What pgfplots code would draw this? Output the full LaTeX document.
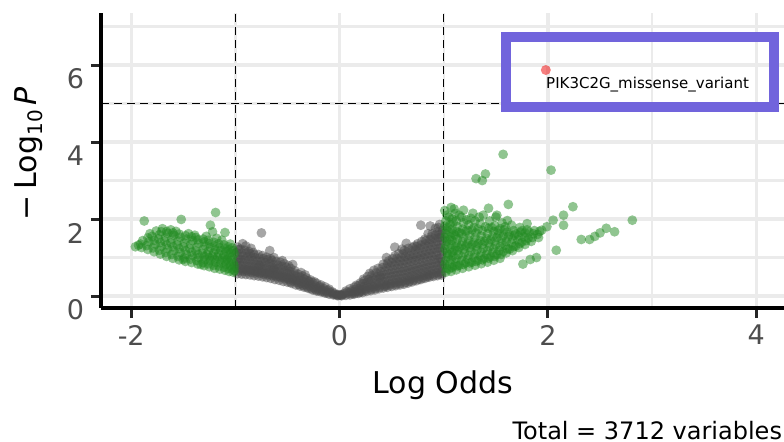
\documentclass[border=0pt]{standalone}
\usepackage{fontspec}
\setmainfont{DejaVu Sans}
\usepackage{pgfplots}
\pgfplotsset{compat=1.18}
\definecolor{grey30}{RGB}{77,77,77}
\definecolor{fgreen}{RGB}{34,139,34}
\definecolor{red2}{RGB}{238,0,0}
\definecolor{gridgrey}{RGB}{235,235,235}
\definecolor{boxblue}{RGB}{113,100,220}

\begin{document}
\begin{tikzpicture}
\useasboundingbox (0,0) rectangle (392pt,220.5pt);
\clip (0,0) rectangle (392pt,220.5pt);
\begin{axis}[
  at={(50.5pt,66.5pt)}, anchor=south west,
  scale only axis, width=341.7pt, height=147.5pt,
  xmin=-2.29, xmax=4.27, ymin=-0.31, ymax=7.35,
  axis x line=bottom, axis y line=left,
  axis line style={-, line width=1.6pt, black},
  xtick={-2,0,2,4}, xticklabels={-2,0,2,4},
  ytick={0,2,4,6}, yticklabels={0,2,4,6},
  minor xtick={-1,1,3}, minor ytick={1,3,5,7},
  tick align=outside, major tick length=5pt, minor tick length=0pt,
  major tick style={line width=1.5pt, black!85},
  grid=both,
  major grid style={line width=1.6pt, gridgrey},
  minor grid style={line width=1.2pt, gridgrey},
  tick label style={font=\fontsize{13.5}{16}\selectfont, text=grey30},
  yticklabel style={yshift=-7pt},
  xlabel={Log Odds},
  xlabel style={font=\fontsize{15}{18}\selectfont, at={(axis description cs:0.5,-0.289)}, anchor=base},
  ylabel={−\hspace{0.2em}Log\raisebox{-3pt}{\fontsize{10}{12}\selectfont 10}\hspace{0.15em}\textit{P}},
  ylabel style={font=\fontsize{15}{18}\selectfont, at={(axis description cs:-0.094,0.522)}, anchor=base},
  clip mode=individual,
]
% thresholds
\addplot[black, line width=0.6pt, dash pattern=on 4pt off 2.5pt] coordinates {(-1,-0.31) (-1,7.35)};
\addplot[black, line width=0.6pt, dash pattern=on 4pt off 2.5pt] coordinates {(1,-0.31) (1,7.35)};
\addplot[black, line width=0.6pt, dash pattern=on 4pt off 2.5pt] coordinates {(-2.29,5) (4.27,5)};

% not significant (grey)
\addplot[only marks, mark=*, mark size=2.45pt, mark options={fill=grey30, fill opacity=0.5, draw opacity=0}] coordinates {
(-0.02,0.01)(-0.02,0.04)(-0.01,0.02)(-0.03,0.03)
(-0.06,0.03)(-0.05,0.07)(-0.07,0.11)(-0.06,0.05)
(-0.10,0.05)(-0.09,0.10)(-0.11,0.15)(-0.10,0.18)(-0.12,0.08)
(-0.14,0.08)(-0.13,0.13)(-0.15,0.19)(-0.14,0.24)(-0.16,0.11)
(-0.18,0.11)(-0.17,0.16)(-0.19,0.22)(-0.18,0.29)(-0.20,0.14)(-0.19,0.26)
(-0.22,0.13)(-0.21,0.19)(-0.23,0.26)(-0.22,0.33)(-0.24,0.37)(-0.23,0.16)
(-0.26,0.16)(-0.25,0.22)(-0.27,0.29)(-0.26,0.36)(-0.28,0.42)(-0.27,0.19)
(-0.30,0.20)(-0.29,0.26)(-0.31,0.33)(-0.30,0.40)(-0.32,0.47)(-0.31,0.23)(-0.29,0.37)
(-0.34,0.23)(-0.33,0.30)(-0.35,0.37)(-0.34,0.44)(-0.36,0.52)(-0.35,0.27)(-0.33,0.55)
(-0.38,0.26)(-0.37,0.33)(-0.39,0.41)(-0.38,0.49)(-0.40,0.57)(-0.39,0.30)(-0.37,0.61)
(-0.42,0.29)(-0.41,0.36)(-0.43,0.44)(-0.42,0.52)(-0.44,0.60)(-0.43,0.66)(-0.41,0.40)
(-0.46,0.33)(-0.45,0.40)(-0.47,0.48)(-0.46,0.56)(-0.48,0.64)(-0.47,0.72)(-0.45,0.44)(-0.47,0.36)
(-0.50,0.36)(-0.49,0.43)(-0.51,0.51)(-0.50,0.59)(-0.52,0.67)(-0.51,0.75)(-0.49,0.79)(-0.50,0.47)
(-0.54,0.38)(-0.53,0.45)(-0.55,0.53)(-0.54,0.61)(-0.56,0.69)(-0.55,0.77)(-0.53,0.84)(-0.54,0.49)
(-0.58,0.41)(-0.57,0.48)(-0.59,0.56)(-0.58,0.64)(-0.60,0.72)(-0.59,0.80)(-0.57,0.88)(-0.58,0.52)
(-0.62,0.43)(-0.61,0.50)(-0.63,0.58)(-0.62,0.66)(-0.64,0.74)(-0.63,0.82)(-0.61,0.90)(-0.62,0.54)(-0.63,0.70)
(-0.66,0.46)(-0.65,0.53)(-0.67,0.61)(-0.66,0.69)(-0.68,0.77)(-0.67,0.85)(-0.65,0.93)(-0.66,0.97)(-0.67,0.57)
(-0.70,0.48)(-0.69,0.55)(-0.71,0.63)(-0.70,0.71)(-0.72,0.79)(-0.71,0.87)(-0.69,0.95)(-0.70,1.01)(-0.71,0.59)
(-0.74,0.50)(-0.73,0.57)(-0.75,0.65)(-0.74,0.73)(-0.76,0.81)(-0.75,0.89)(-0.73,0.97)(-0.74,1.05)(-0.75,0.61)
(-0.78,0.52)(-0.77,0.59)(-0.79,0.67)(-0.78,0.75)(-0.80,0.83)(-0.79,0.91)(-0.77,0.99)(-0.78,1.08)(-0.79,0.63)(-0.77,0.79)
(-0.82,0.53)(-0.81,0.60)(-0.83,0.68)(-0.82,0.76)(-0.84,0.84)(-0.83,0.92)(-0.81,1.00)(-0.82,1.08)(-0.83,1.13)(-0.81,0.64)
(-0.86,0.55)(-0.85,0.62)(-0.87,0.70)(-0.86,0.78)(-0.88,0.86)(-0.87,0.94)(-0.85,1.02)(-0.86,1.10)(-0.87,1.16)(-0.85,0.66)
(-0.90,0.56)(-0.89,0.63)(-0.91,0.71)(-0.90,0.79)(-0.92,0.87)(-0.91,0.95)(-0.89,1.03)(-0.90,1.11)(-0.91,1.19)(-0.89,0.67)
(-0.94,0.57)(-0.93,0.64)(-0.95,0.72)(-0.94,0.80)(-0.96,0.88)(-0.95,0.96)(-0.93,1.04)(-0.94,1.12)(-0.95,1.22)(-0.93,0.68)
(-0.98,0.58)(-0.97,0.65)(-0.99,0.73)(-0.98,0.81)(-0.99,0.89)(-0.97,0.97)(-0.98,1.05)(-0.99,1.13)(-0.97,1.21)(-0.98,1.27)
(-0.75,1.64)(-0.67,1.18)(-0.90,1.30)(-0.93,1.36)(-0.55,0.92)(-0.45,0.82)(-0.85,1.24)(-0.63,1.00)
(0.02,0.01)(0.01,0.03)(0.03,0.05)(0.02,0.02)
(0.06,0.02)(0.05,0.06)(0.07,0.10)(0.06,0.13)
(0.10,0.03)(0.09,0.08)(0.11,0.13)(0.10,0.19)(0.12,0.06)
(0.14,0.05)(0.13,0.11)(0.15,0.17)(0.14,0.23)(0.16,0.28)(0.15,0.08)
(0.18,0.07)(0.17,0.13)(0.19,0.20)(0.18,0.27)(0.20,0.34)(0.19,0.10)
(0.22,0.09)(0.21,0.16)(0.23,0.24)(0.22,0.32)(0.24,0.40)(0.23,0.44)(0.21,0.12)
(0.26,0.12)(0.25,0.19)(0.27,0.27)(0.26,0.35)(0.28,0.43)(0.27,0.51)(0.25,0.15)
(0.30,0.14)(0.29,0.22)(0.31,0.30)(0.30,0.38)(0.32,0.46)(0.31,0.54)(0.29,0.59)(0.30,0.18)
(0.34,0.16)(0.33,0.24)(0.35,0.33)(0.34,0.42)(0.36,0.51)(0.35,0.60)(0.33,0.67)(0.34,0.20)
(0.38,0.19)(0.37,0.27)(0.39,0.36)(0.38,0.45)(0.40,0.54)(0.39,0.63)(0.37,0.72)(0.38,0.23)(0.39,0.50)
(0.42,0.21)(0.41,0.29)(0.43,0.38)(0.42,0.47)(0.44,0.56)(0.43,0.65)(0.41,0.74)(0.42,0.83)(0.43,0.25)
(0.46,0.23)(0.45,0.31)(0.47,0.40)(0.46,0.49)(0.48,0.58)(0.47,0.67)(0.45,0.76)(0.46,0.85)(0.47,0.91)(0.45,0.27)
(0.50,0.25)(0.49,0.33)(0.51,0.42)(0.50,0.51)(0.52,0.60)(0.51,0.69)(0.49,0.78)(0.50,0.87)(0.51,0.97)(0.49,0.29)
(0.54,0.27)(0.53,0.35)(0.55,0.44)(0.54,0.53)(0.56,0.62)(0.55,0.71)(0.53,0.80)(0.54,0.89)(0.55,0.98)(0.53,1.04)(0.54,0.31)
(0.58,0.29)(0.57,0.37)(0.59,0.46)(0.58,0.55)(0.60,0.64)(0.59,0.73)(0.57,0.82)(0.58,0.91)(0.59,1.00)(0.57,1.10)(0.58,0.33)
(0.62,0.31)(0.61,0.39)(0.63,0.48)(0.62,0.57)(0.64,0.66)(0.63,0.75)(0.61,0.84)(0.62,0.93)(0.63,1.02)(0.61,1.10)(0.62,1.18)(0.63,0.35)
(0.66,0.34)(0.65,0.42)(0.67,0.51)(0.66,0.60)(0.68,0.69)(0.67,0.78)(0.65,0.87)(0.66,0.96)(0.67,1.05)(0.65,1.14)(0.66,1.24)(0.67,0.38)
(0.70,0.37)(0.69,0.45)(0.71,0.54)(0.70,0.63)(0.72,0.72)(0.71,0.81)(0.69,0.90)(0.70,0.99)(0.71,1.08)(0.69,1.17)(0.70,1.26)(0.71,0.41)(0.72,1.30)
(0.74,0.40)(0.73,0.48)(0.75,0.57)(0.74,0.66)(0.76,0.75)(0.75,0.84)(0.73,0.93)(0.74,1.02)(0.75,1.11)(0.73,1.20)(0.74,1.29)(0.75,1.36)(0.76,0.44)
(0.78,0.43)(0.77,0.51)(0.79,0.60)(0.78,0.69)(0.80,0.78)(0.79,0.87)(0.77,0.96)(0.78,1.05)(0.79,1.14)(0.77,1.23)(0.78,1.32)(0.79,1.42)(0.80,0.47)
(0.82,0.46)(0.81,0.54)(0.83,0.63)(0.82,0.72)(0.84,0.81)(0.83,0.90)(0.81,0.99)(0.82,1.08)(0.83,1.17)(0.81,1.26)(0.82,1.35)(0.83,1.44)(0.84,0.50)(0.82,1.48)
(0.86,0.49)(0.85,0.57)(0.87,0.66)(0.86,0.75)(0.88,0.84)(0.87,0.93)(0.85,1.02)(0.86,1.11)(0.87,1.20)(0.85,1.29)(0.86,1.38)(0.87,1.47)(0.88,1.54)(0.86,0.53)
(0.90,0.51)(0.89,0.59)(0.91,0.68)(0.90,0.77)(0.92,0.86)(0.91,0.95)(0.89,1.04)(0.90,1.13)(0.91,1.22)(0.89,1.31)(0.90,1.40)(0.91,1.49)(0.92,1.58)(0.90,0.55)(0.89,1.62)
(0.94,0.53)(0.93,0.61)(0.95,0.70)(0.94,0.79)(0.96,0.88)(0.95,0.97)(0.93,1.06)(0.94,1.15)(0.95,1.24)(0.93,1.33)(0.94,1.42)(0.95,1.51)(0.96,1.60)(0.94,1.67)(0.95,0.57)
(0.98,0.55)(0.97,0.63)(0.99,0.72)(0.98,0.81)(0.99,0.90)(0.97,0.99)(0.98,1.08)(0.99,1.17)(0.97,1.26)(0.98,1.35)(0.99,1.44)(0.97,1.53)(0.98,1.62)(0.99,1.71)(0.98,0.59)
(0.78,1.84)(0.87,1.82)(0.53,1.27)(0.64,1.37)(0.92,1.76)(0.96,1.86)(0.45,1.00)(0.60,1.22)(0.85,1.62)(0.95,1.78)
};

% log odds beyond cutoff (green)
\addplot[only marks, mark=*, mark size=2.45pt, mark options={fill=fgreen, fill opacity=0.5, draw opacity=0}] coordinates {
(-1.02,0.62)(-1.03,0.70)(-1.01,0.78)(-1.02,0.86)(-1.04,0.94)(-1.03,1.02)(-1.01,1.10)(-1.02,1.18)(-1.03,1.25)(-1.01,0.66)
(-1.06,0.64)(-1.07,0.72)(-1.05,0.80)(-1.06,0.88)(-1.08,0.96)(-1.07,1.04)(-1.05,1.12)(-1.06,1.20)(-1.07,1.28)(-1.10,1.65)
(-1.10,0.67)(-1.11,0.75)(-1.09,0.83)(-1.10,0.91)(-1.12,0.99)(-1.11,1.07)(-1.09,1.15)(-1.10,1.23)(-1.11,1.33)
(-1.15,0.70)(-1.16,0.78)(-1.14,0.86)(-1.15,0.94)(-1.17,1.02)(-1.16,1.10)(-1.14,1.18)(-1.15,1.26)(-1.16,1.36)
(-1.20,0.72)(-1.21,0.80)(-1.19,0.88)(-1.20,0.96)(-1.22,1.04)(-1.21,1.12)(-1.19,1.20)(-1.20,1.30)(-1.21,1.40)(-1.19,2.17)(-1.24,1.84)(-1.22,1.67)
(-1.25,0.76)(-1.26,0.84)(-1.24,0.92)(-1.25,1.00)(-1.27,1.08)(-1.26,1.16)(-1.24,1.26)(-1.25,1.36)(-1.26,1.45)
(-1.30,0.79)(-1.31,0.87)(-1.29,0.95)(-1.30,1.03)(-1.32,1.11)(-1.31,1.21)(-1.29,1.31)(-1.30,1.41)(-1.31,1.48)
(-1.36,0.83)(-1.37,0.92)(-1.35,1.00)(-1.36,1.08)(-1.38,1.17)(-1.37,1.27)(-1.35,1.37)(-1.36,1.46)(-1.38,1.52)
(-1.42,0.87)(-1.43,0.96)(-1.41,1.05)(-1.42,1.14)(-1.44,1.24)(-1.43,1.34)(-1.41,1.44)(-1.42,1.54)
(-1.48,0.90)(-1.49,0.99)(-1.47,1.08)(-1.48,1.18)(-1.50,1.28)(-1.49,1.38)(-1.47,1.48)(-1.48,1.57)
(-1.54,0.94)(-1.55,1.03)(-1.53,1.13)(-1.54,1.23)(-1.56,1.33)(-1.55,1.43)(-1.53,1.53)(-1.54,1.61)(-1.52,1.99)
(-1.60,0.98)(-1.61,1.08)(-1.59,1.18)(-1.60,1.28)(-1.62,1.38)(-1.61,1.48)(-1.59,1.58)(-1.60,1.64)
(-1.66,1.03)(-1.67,1.13)(-1.65,1.23)(-1.66,1.33)(-1.68,1.43)(-1.67,1.53)(-1.65,1.63)(-1.66,1.68)
(-1.72,1.09)(-1.73,1.19)(-1.71,1.29)(-1.72,1.39)(-1.74,1.49)(-1.73,1.59)(-1.71,1.67)
(-1.78,1.15)(-1.79,1.25)(-1.77,1.35)(-1.78,1.45)(-1.80,1.55)(-1.76,1.69)
(-1.84,1.21)(-1.85,1.31)(-1.83,1.41)(-1.84,1.51)(-1.875,1.95)
(-1.90,1.26)(-1.91,1.35)(-1.89,1.44)(-1.96,1.28)(-1.93,1.32)
(-1.05,1.35)(-1.13,1.45)(-1.18,1.50)(-1.28,1.55)(-1.45,1.62)(-1.62,1.72)(-1.70,1.75)(-1.33,0.82)(-1.50,0.95)(-1.39,1.58)(-1.57,1.68)(-1.82,1.62)
(1.02,0.62)(1.03,0.72)(1.01,0.82)(1.02,0.92)(1.04,1.02)(1.03,1.12)(1.01,1.22)(1.02,1.32)(1.03,1.42)(1.01,1.52)(1.02,1.62)(1.03,1.72)(1.01,1.82)(1.02,1.95)(1.03,2.10)(1.01,2.22)
(1.07,0.64)(1.08,0.74)(1.06,0.84)(1.07,0.94)(1.09,1.04)(1.08,1.14)(1.06,1.24)(1.07,1.34)(1.08,1.44)(1.06,1.54)(1.07,1.64)(1.08,1.74)(1.06,1.86)(1.07,2.30)(1.08,2.00)
(1.12,0.68)(1.13,0.78)(1.11,0.88)(1.12,0.98)(1.14,1.08)(1.13,1.18)(1.11,1.28)(1.12,1.38)(1.13,1.48)(1.11,1.58)(1.12,1.68)(1.13,1.80)(1.12,1.95)(1.11,2.15)
(1.18,0.72)(1.19,0.82)(1.17,0.92)(1.18,1.02)(1.20,1.12)(1.19,1.22)(1.17,1.32)(1.18,1.42)(1.19,1.52)(1.17,1.62)(1.18,1.74)(1.19,1.90)(1.19,2.23)(1.17,2.05)
(1.24,0.76)(1.25,0.86)(1.23,0.96)(1.24,1.06)(1.26,1.16)(1.25,1.26)(1.23,1.36)(1.24,1.46)(1.25,1.58)(1.23,1.70)(1.24,1.85)(1.26,2.02)
(1.30,0.80)(1.31,0.90)(1.29,1.00)(1.30,1.10)(1.32,1.20)(1.31,1.30)(1.29,1.40)(1.30,1.52)(1.31,1.64)(1.29,1.78)(1.31,3.05)(1.37,3.00)(1.40,3.17)(1.30,1.95)
(1.36,0.84)(1.37,0.94)(1.35,1.04)(1.36,1.14)(1.38,1.24)(1.37,1.34)(1.35,1.44)(1.36,1.56)(1.37,1.70)(1.35,1.88)(1.38,2.10)
(1.42,0.88)(1.43,0.98)(1.41,1.08)(1.42,1.18)(1.44,1.28)(1.43,1.38)(1.41,1.50)(1.42,1.62)(1.43,1.76)(1.43,2.28)(1.44,1.95)
(1.48,0.93)(1.49,1.03)(1.47,1.13)(1.48,1.23)(1.50,1.33)(1.49,1.43)(1.47,1.55)(1.48,1.68)(1.49,1.82)(1.50,2.05)(1.51,2.10)
(1.54,0.98)(1.55,1.08)(1.53,1.18)(1.54,1.28)(1.56,1.38)(1.55,1.50)(1.53,1.62)(1.54,1.75)(1.57,3.68)(1.56,1.90)
(1.60,1.12)(1.61,1.22)(1.59,1.32)(1.60,1.42)(1.62,1.54)(1.61,1.66)(1.59,1.80)(1.62,2.38)(1.61,1.96)
(1.66,1.18)(1.67,1.28)(1.65,1.38)(1.66,1.48)(1.68,1.58)(1.67,1.70)(1.65,1.84)
(1.72,1.26)(1.73,1.36)(1.71,1.46)(1.72,1.56)(1.74,1.66)(1.73,1.78)(1.76,0.83)
(1.78,1.34)(1.79,1.44)(1.77,1.54)(1.78,1.64)(1.80,1.72)(1.83,0.95)(1.80,1.88)
(1.84,1.42)(1.85,1.52)(1.86,1.62)(1.87,1.70)(1.89,1.00)
(1.90,1.60)(1.92,1.68)(1.94,1.71)(1.91,1.52)
(1.05,0.70)(1.05,1.08)(1.05,1.47)(1.04,1.78)(1.05,2.05)
(1.10,0.78)(1.10,1.19)(1.10,1.60)(1.09,1.92)(1.10,2.26)
(1.15,0.80)(1.15,1.25)(1.15,1.65)(1.15,2.10)
(1.21,0.86)(1.21,1.30)(1.21,1.68)(1.22,1.98)
(1.27,0.88)(1.27,1.33)(1.27,1.72)(1.28,2.15)
(1.33,0.93)(1.33,1.36)(1.33,1.74)(1.34,2.05)
(1.39,0.98)(1.39,1.42)(1.40,1.80)
(1.45,1.02)(1.45,1.46)(1.46,1.78)
(1.51,1.08)(1.51,1.52)(1.52,1.70)
(1.57,1.15)(1.57,1.56)(1.58,1.72)
(1.63,1.22)(1.63,1.60)(1.69,1.30)(1.69,1.62)
(1.75,1.40)(1.75,1.70)(1.81,1.50)(1.82,1.66)
(2.03,3.27)(2.24,2.32)(2.15,2.10)(2.81,1.97)(2.64,1.67)(2.56,1.76)(2.50,1.64)(2.40,1.47)(2.32,1.47)(2.08,1.19)(2.05,1.97)(2.15,1.84)(1.99,1.80)(2.45,1.55)
};

% significant (red)
\addplot[only marks, mark=*, mark size=2.5pt, mark options={fill=red2, fill opacity=0.5, draw opacity=0}] coordinates {(1.98,5.87)};

\node[anchor=base west, inner sep=0pt, font=\fontsize{7.5}{9}\selectfont] at ([yshift=-9.2pt]axis cs:1.98,5.87) {PIK3C2G\_missense\_variant};
\draw[boxblue, line width=5pt] (axis cs:1.60,4.909) rectangle (axis cs:4.166,6.735);
\node[anchor=base east, inner sep=0pt, font=\fontsize{12}{14}\selectfont] at ([xshift=-1pt,yshift=-65.5pt]rel axis cs:1,0) {Total = 3712 variables};
\end{axis}
\end{tikzpicture}
\end{document}
